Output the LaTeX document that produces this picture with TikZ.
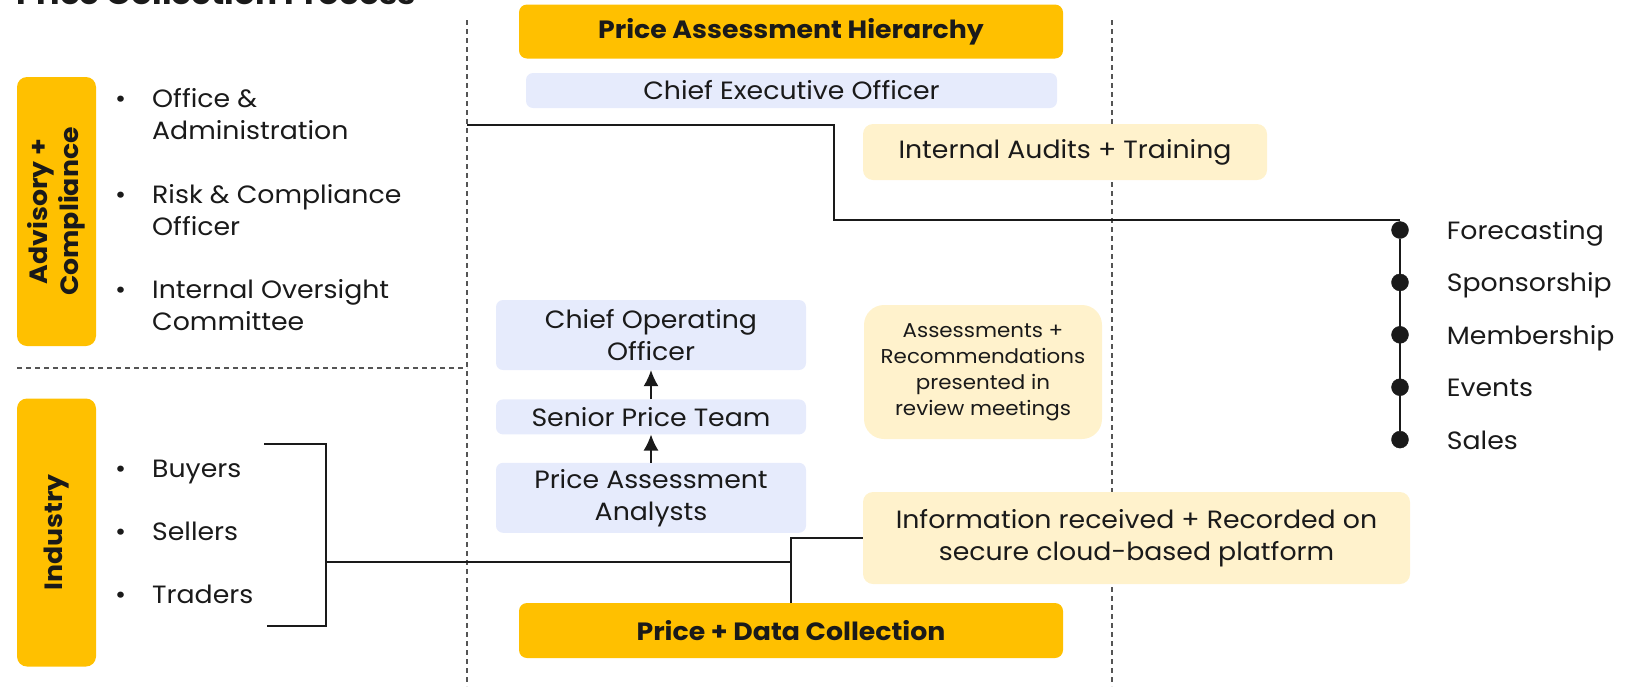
\documentclass[tikz,border=0pt]{standalone}
\usepackage{fontspec}
\setmainfont{Poppins}[FakeStretch=1.07]
\usepackage{tikz}
\usetikzlibrary{shapes,arrows.meta}
\usetikzlibrary{positioning}
\definecolor{gold}{HTML}{FFC000}
\definecolor{lavender}{HTML}{E6EBFC}
\definecolor{cream}{HTML}{FFF2CC}
\definecolor{ink}{HTML}{1A1A1A}
\definecolor{rule}{HTML}{555555}
\tikzset{auto, >={Latex[length=16pt,width=15pt]}, x=1pt, y=-1pt, inner sep=0pt, node distance=28pt, font=\fontsize{25}{32}\selectfont, text=ink}
\tikzstyle{header} = [fill=gold, rounded corners=8pt, minimum width=544pt, minimum height=54pt, text centered, font=\fontsize{25}{32}\selectfont\bfseries]
\tikzstyle{role} = [fill=lavender, rounded corners=7pt, minimum width=310pt, text centered, align=center]
\tikzstyle{note} = [fill=cream, rounded corners=10pt, text centered, align=center]
\tikzstyle{tab} = [fill=gold, rounded corners=10pt, rotate=90, minimum width=269pt, minimum height=79pt, align=center, font=\fontsize{25}{31}\selectfont\bfseries]
\tikzstyle{item} = [anchor=base west, align=left]
\tikzstyle{stream} = [text height=19pt, text depth=0pt]
\tikzstyle{dot} = [draw=ink, circle, fill=ink, minimum size=17pt, inner sep=0pt, anchor=center]
\tikzstyle{divider} = [draw=rule, dash pattern=on 5pt off 4pt, line width=1.5pt]
\tikzstyle{link} = [draw=ink, line width=1.3pt]

\begin{document}
\begin{tikzpicture}
    \useasboundingbox (0,0) rectangle (1642,686);
    \coordinate (left_top) at (467,20);
    \coordinate (left_bot) at (467,686);
    \coordinate (right_top) at (1112,20);
    \coordinate (right_bot) at (1112,686);
    \coordinate (split_l) at (17,368);
    \coordinate (split_r) at (467,368);
    \draw [divider] (left_top) -- (left_bot);
    \draw [divider] (right_top) -- (right_bot);
    \draw [divider] (split_l) -- (split_r);

    \node [anchor=base west, font=\fontsize{30.5}{36}\selectfont\bfseries] (title) at (16,4) {Price Collection Process};

    \node [tab] (advisory) at (56.5,211.5) {Advisory +\\Compliance};
    \node [tab, minimum width=268pt] (industry) at (56.5,532.5) {Industry};

    \node [item] (office) at (115,107) {\begin{tabular}[t]{@{}p{37pt}@{}l@{}}\textbullet & Office \&\\ & Administration\end{tabular}};
    \node [item] (risk) at (115,203) {\begin{tabular}[t]{@{}p{37pt}@{}l@{}}\textbullet & Risk \& Compliance\\ & Officer\end{tabular}};
    \node [item] (oversight) at (115,298) {\begin{tabular}[t]{@{}p{37pt}@{}l@{}}\textbullet & Internal Oversight\\ & Committee\end{tabular}};
    \node [item] (buyers) at (115,477) {\begin{tabular}[t]{@{}p{37pt}@{}l@{}}\textbullet & Buyers\end{tabular}};
    \node [item] (sellers) at (115,540) {\begin{tabular}[t]{@{}p{37pt}@{}l@{}}\textbullet & Sellers\end{tabular}};
    \node [item] (traders) at (115,603) {\begin{tabular}[t]{@{}p{37pt}@{}l@{}}\textbullet & Traders\end{tabular}};

    \node [header] (hierarchy) at (791,31.5) {Price Assessment Hierarchy};
    \node [role, minimum width=531pt, minimum height=35pt] (ceo) at (791.5,90.5) {Chief Executive Officer};
    \node [role, minimum height=70pt] (coo) at (651,335) {Chief Operating\\Officer};
    \node [role, minimum height=35pt, below=29pt of coo] (spt) {Senior Price Team};
    \node [role, minimum height=70pt, below=28pt of spt] (paa) {Price Assessment\\Analysts};
    \node [header, minimum height=55pt] (collection) at (791,630.5) {Price + Data Collection};

    \node [note, minimum width=404pt, minimum height=56pt] (audits) at (1065,152) {Internal Audits + Training};
    \node [note, rounded corners=20pt, minimum width=238pt, minimum height=134pt, font=\fontsize{20}{26}\selectfont] (review) at (983,372) {Assessments +\\Recommendations\\presented in\\review meetings};
    \node [note, minimum width=547pt, minimum height=92pt] (info) at (1136.5,538) {Information received + Recorded on\\secure cloud-based platform};

    \node [dot] (forecast_dot) at (1400,230) {};
    \node [dot, below=35pt of forecast_dot] (sponsor_dot) {};
    \node [dot, below=35pt of sponsor_dot] (member_dot) {};
    \node [dot, below=35pt of member_dot] (events_dot) {};
    \node [dot, below=35pt of events_dot] (sales_dot) {};
    \node [stream, right=38pt of forecast_dot] (forecast) {Forecasting};
    \node [stream, right=38pt of sponsor_dot] (sponsor) {Sponsorship};
    \node [stream, right=38pt of member_dot] (member) {Membership};
    \node [stream, right=38pt of events_dot] (events) {Events};
    \node [stream, right=38pt of sales_dot] (sales) {Sales};

    \coordinate (ceo_tap) at (467,125);
    \coordinate (audit_bend) at (834,220);
    \coordinate (brk_top) at (264,444);
    \coordinate (brk_mid) at (326,562);
    \coordinate (brk_bot) at (267,626);

    \draw [link] (ceo_tap) -| (audit_bend) -- (audit_bend -| forecast_dot);
    \draw [link] (forecast_dot) -- (sales_dot);
    \draw [link, ->] (paa) -- (spt);
    \draw [link, ->] (spt) -- (coo);
    \draw [link] (brk_top) -| (brk_mid) |- (brk_bot);
    \draw [link] (brk_mid) -- (brk_mid -| collection.north);
    \draw [link] (info.west) -| (collection.north);
\end{tikzpicture}
\end{document}
